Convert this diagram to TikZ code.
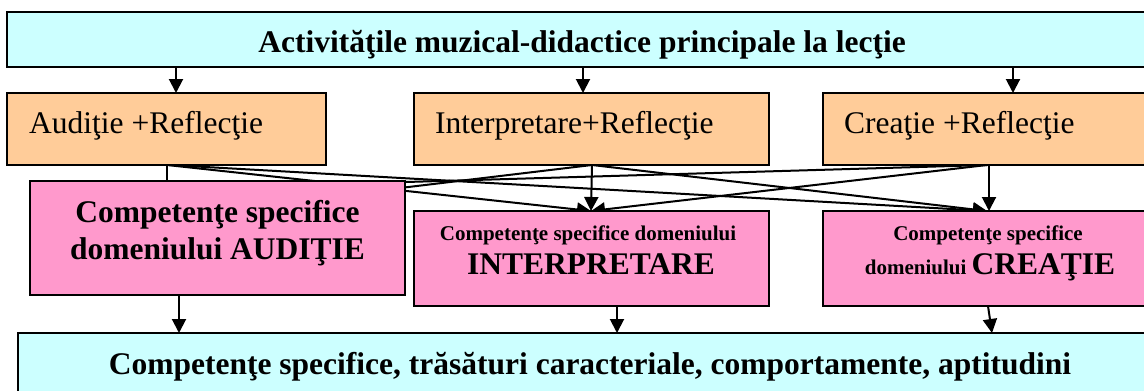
\documentclass[tikz,border=0pt]{standalone}
\usepackage{fontspec}
\setmainfont{Liberation Serif}[Ligatures=NoCommon]
\usetikzlibrary{arrows.meta,calc}
\definecolor{cyanbox}{HTML}{CCFFFF}
\definecolor{orangebox}{HTML}{FFCC99}
\definecolor{pinkbox}{HTML}{FF99CC}
\pgfdeclarelayer{back}
\pgfsetlayers{back,main}
\newcommand{\bigtxt}{\fontsize{31.5}{37}\selectfont}
\newcommand{\smalltxt}{\fontsize{21}{25}\selectfont}
\begin{document}
\begin{tikzpicture}[x=1pt,y=-1pt,
  box/.style={draw=black,line width=2pt,anchor=north west,inner sep=0pt,outer sep=0pt},
  cyanb/.style={box,fill=cyanbox},
  orangeb/.style={box,fill=orangebox,minimum height=72pt},
  pinkb/.style={box,fill=pinkbox},
  conn/.style={line width=2pt,-{Triangle[width=14pt,length=14pt]}},
  plainline/.style={line width=2pt},
  label/.style={inner sep=0pt,anchor=base},
  boldbig/.style={label,font=\bigtxt\bfseries},
  boldsmall/.style={label,font=\smalltxt\bfseries},
  regbig/.style={inner sep=0pt,anchor=base west,font=\bigtxt}]
\useasboundingbox (0,0) rectangle (1144,391);
\clip (0,0) rectangle (1144,391);

% boxes
\node[cyanb,minimum width=1150pt,minimum height=55pt] (top) at (7,12) {};
\node[orangeb,minimum width=319pt] (o1) at (7,93) {};
\node[orangeb,minimum width=355pt] (o2) at (414,93) {};
\node[orangeb,minimum width=340pt] (o3) at (823,93) {};
\node[pinkb,minimum width=375pt,minimum height=114pt] (pA) at (30,181) {};
\node[pinkb,minimum width=355pt,minimum height=95pt] (pB) at (414,211) {};
\node[pinkb,minimum width=332pt,minimum height=95pt] (pC) at (823,211) {};
\node[cyanb,minimum width=1144pt,minimum height=80pt] (bot) at (18,333) {};

% texts
\node[boldbig] (toptxt) at (582,52) {Activităţile muzical-didactice principale la lecţie};
\node[regbig] (o1txt) at (29,133) {Audiţie +Reflecţie};
\node[regbig] (o2txt) at (435,133) {Interpretare+Reflecţie};
\node[regbig] (o3txt) at (844,133) {Creaţie +Reflecţie};
\node[boldbig] (pAa) at (217.5,222) {Competenţe specifice};
\node[boldbig] (pAb) at (217.5,259) {domeniului AUDIŢIE};
\node[boldsmall] (pBa) at (588,240) {Competenţe specifice domeniului};
\node[boldbig] (pBb) at (591,274) {INTERPRETARE};
\node[boldsmall] (pCa) at (988,240) {Competenţe specifice};
\node[boldbig] (pCb) at (990,274) {{\smalltxt domeniului }CREAŢIE};
\node[boldbig] (bottxt) at (590,374) {Competenţe specifice, trăsături caracteriale, comportamente, aptitudini};

% x positions of connectors
\coordinate (xt1) at (176,0);
\coordinate (xt2) at (583,0);
\coordinate (xt3) at (1013,0);
\coordinate (xs1) at (167,0);
\coordinate (xs1b) at (170,0);
\coordinate (xs2) at (592,0);
\coordinate (xs3) at (987,0);
\coordinate (xs3b) at (989,0);
\coordinate (xtB) at (591,0);
\coordinate (xtC) at (987,0);
\coordinate (xb1) at (179,0);
\coordinate (xb2) at (617,0);
\coordinate (xb3) at (988,0);
\coordinate (xb4) at (992,0);
\coordinate (hA1) at (300,200);
\coordinate (hA2) at (300,185.1);

\begin{pgfonlayer}{back}
% top to activities
\draw[conn] (top.south -| xt1) -- (o1.north -| xt1);
\draw[conn] (top.south -| xt2) -- (o2.north -| xt2);
\draw[conn] (top.south -| xt3) -- (o3.north -| xt3);
% activities to competences
\draw[plainline] (o1.south -| xs1) -- (pA.north -| xs1);
\draw[conn] (o1.south -| xs1) -- (pB.north -| xtB);
\draw[conn] (o1.south -| xs1b) -- (pC.north -| xtC);
\draw[plainline] (o2.south -| xs2) -- (hA1);
\draw[conn] (o2.south -| xs2) -- (pB.north -| xtB);
\draw[conn] (o2.south -| xs2) -- (pC.north -| xtC);
\draw[plainline] (o3.south -| xs3) -- (hA2);
\draw[conn] (o3.south -| xs3) -- (pB.north -| xtB);
\draw[conn] (o3.south -| xs3b) -- (pC.north -| xs3b);
% competences to final box
\draw[conn] (pA.south -| xb1) -- (bot.north -| xb1);
\draw[conn] (pB.south -| xb2) -- (bot.north -| xb2);
\draw[conn] (pC.south -| xb3) -- (bot.north -| xb4);
\end{pgfonlayer}
\end{tikzpicture}
\end{document}
